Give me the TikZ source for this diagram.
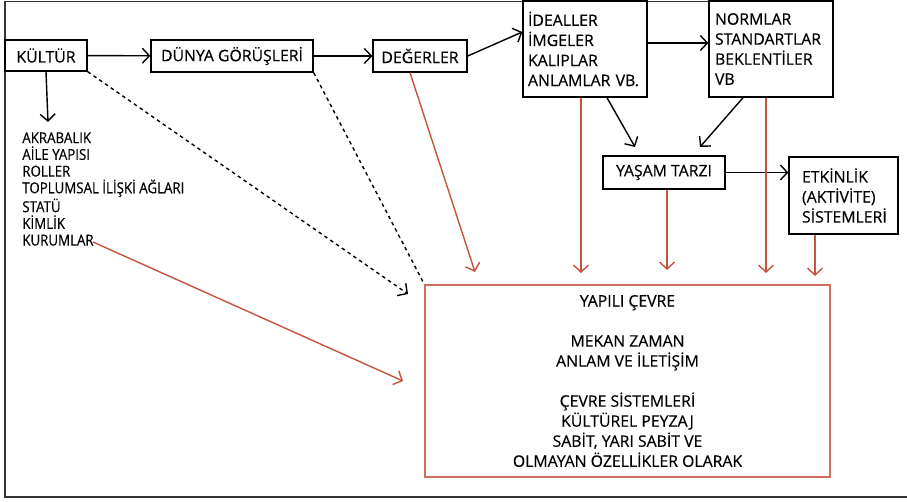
\documentclass[tikz,border=0pt]{standalone}
\usepackage{fontspec}
\setmainfont{Open Sans}[FakeBold=0.4]
\newfontfamily\darfont{Open Sans}[FakeBold=0.4, FakeStretch=0.88]
\usetikzlibrary{arrows.meta}

\definecolor{kirmizi}{RGB}{196,84,62}

\begin{document}
\begin{tikzpicture}[
  kutu/.style = {rectangle, draw, line width=0.8pt, inner sep=0pt},
  ok/.style = {line width=0.8pt, -{Straight Barb[length=1.4mm,width=3mm]}},
  kok/.style = {ok, draw=kirmizi},
  kesik/.style = {line width=0.8pt, dash pattern=on 2pt off 2pt},
  font=\fontsize{9}{11.4}\selectfont
]
\useasboundingbox (0,0) rectangle (18.14,10.02);
\draw[line width=0.9pt, black!80] (16.66,9.99) -- (0.1,9.99) -- (0.1,0.08) -- (18.14,0.08);

\node[kutu, minimum width=1.64cm, minimum height=0.62cm] (kultur) at (0.92,8.91) {KÜLTÜR};
\node[kutu, minimum width=3.24cm, minimum height=0.64cm] (dunya) at (4.64,8.90) {DÜNYA GÖRÜŞLERİ};
\node[kutu, minimum width=1.88cm, minimum height=0.64cm] (deger) at (8.40,8.90) {DEĞERLER};
\node[kutu, minimum height=1.92cm, inner xsep=0.1cm, text width=2.28cm, align=left] (ideal) at (11.70,9.04) {İDEALLER\\İMGELER\\KALIPLAR\\ANLAMLAR VB.};
\node[kutu, minimum height=1.92cm, inner xsep=0.12cm, text width=2.24cm, align=left] (normlar) at (15.42,9.04) {NORMLAR\\STANDARTLAR\\BEKLENTİLER\\VB};
\node[kutu, minimum width=2.44cm, minimum height=0.66cm] (yasam) at (13.28,6.57) {YAŞAM TARZI};
\node[kutu, minimum height=1.54cm, inner xsep=0.26cm, text width=1.66cm, align=left] (etkinlik) at (16.87,6.11) {ETKİNLİK\\(AKTİVİTE)\\SİSTEMLERİ};
\node[kutu, draw=kirmizi!85, minimum width=8.10cm, minimum height=3.84cm, align=center] (yapili) at (12.55,2.40) {YAPILI ÇEVRE\\[11.4pt]MEKAN ZAMAN\\ANLAM VE İLETİŞİM\\[11.4pt]ÇEVRE SİSTEMLERİ\\KÜLTÜREL PEYZAJ\\SABİT, YARI SABİT VE\\OLMAYAN ÖZELLİKLER OLARAK};
\node[anchor=north west, inner sep=0pt, align=left, font=\darfont\fontsize{8.6}{9.5}\selectfont] (liste) at (0.44,7.38) {AKRABALIK\\AİLE YAPISI\\ROLLER\\TOPLUMSAL İLİŞKİ AĞLARI\\STATÜ\\KİMLİK\\KURUMLAR};

\coordinate (listeuc) at (0.96,7.58);
\coordinate (kurum) at (1.86,5.18);
\coordinate (kurumuc) at (8.06,2.40);
\coordinate (kesikuc) at (8.16,4.14);
\coordinate (yasamsol) at (12.70,7.08);
\coordinate (yasamsag) at (14.00,7.08);

\draw[ok] (kultur) -- (dunya);
\draw[ok] (dunya) -- (deger);
\draw[ok] (deger.east) -- ([yshift=3.4mm]ideal.west);
\draw[ok] ([yshift=1.2mm]ideal.east) -- ([yshift=1.2mm]normlar.west);
\draw[ok] (kultur.south) -- (listeuc);
\draw[ok] ([xshift=4.4mm]ideal.south) -- (yasamsol);
\draw[ok] ([xshift=-5.6mm]normlar.south) -- (yasamsag);
\draw[ok] (yasam.east) -- (yasam.east -| etkinlik.west);

\draw[kesik, -{Straight Barb[length=1.4mm,width=3mm]}] (kultur.south east) -- (kesikuc);
\draw[kesik] (dunya.south east) -- (yapili.north west);

\draw[kok] ([xshift=-2mm]deger.south) -- (9.50,4.58);
\draw[kok] ([xshift=-0.8mm]ideal.south) -- ([xshift=-0.8mm]ideal.south |- 0,4.56);
\draw[kok] ([xshift=-1mm]normlar.south) -- ([xshift=-1mm]normlar.south |- 0,4.56);
\draw[kok] ([xshift=0.6mm]yasam.south) -- ([xshift=0.6mm]yasam.south |- 0,4.62);
\draw[kok] ([xshift=-5.7mm]etkinlik.south) -- ([xshift=-5.7mm]etkinlik.south |- 0,4.50);
\draw[kok] (kurum) -- (kurumuc);

\end{tikzpicture}
\end{document}
